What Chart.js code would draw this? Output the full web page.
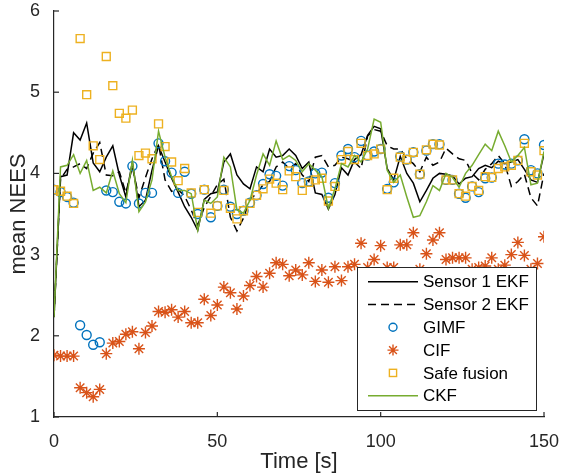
<!DOCTYPE html>
<html lang="en">
<head>
<meta charset="UTF-8" />
<title>mean NEES</title>
<style>
  * { margin: 0; padding: 0; box-sizing: border-box; }
  body { background: #fff; }
  #wrap { width: 561px; height: 475px; }
</style>
</head>
<body>
<div id="wrap"><canvas id="chart" width="561" height="475"></canvas></div>
<script src="https://cdn.jsdelivr.net/npm/chart.js"></script>
<script>
// time stamps, one sample every 2 s
const time = [0, 2, 4, 6, 8, 10, 12, 14, 16, 18, 20, 22, 24, 26, 28, 30, 32, 34, 36, 38,
  40, 42, 44, 46, 48, 50, 52, 54, 56, 58, 60, 62, 64, 66, 68, 70, 72, 74, 76, 78,
  80, 82, 84, 86, 88, 90, 92, 94, 96, 98, 100, 102, 104, 106, 108, 110, 112, 114, 116, 118,
  120, 122, 124, 126, 128, 130, 132, 134, 136, 138, 140, 142, 144, 146, 148, 150];

const sensor1Ekf = [2.23, 3.96, 3.98, 4.50, 4.41, 4.62, 4.13, 4.02, 4.20, 4.34,
  3.98, 3.71, 4.14, 3.59, 3.67, 4.04, 4.34, 4.14, 3.94, 3.77,
  3.59, 3.46, 3.30, 3.68, 3.75, 3.77, 4.14, 4.24, 3.98, 3.87,
  3.81, 4.08, 4.02, 4.30, 4.20, 4.22, 4.30, 4.22, 4.06, 4.14,
  3.76, 3.74, 3.56, 3.74, 4.07, 3.98, 4.17, 4.23, 4.47, 4.58,
  4.55, 4.06, 3.92, 4.21, 4.00, 3.88, 3.65, 3.79, 3.94, 4.00,
  3.99, 3.97, 3.87, 3.94, 3.96, 4.06, 4.10, 4.07, 4.15, 4.12,
  4.14, 4.17, 4.05, 3.92, 3.89, 4.24];

const sensor2Ekf = [2.23, 3.93, 4.05, 4.08, 4.12, 4.06, 4.25, 4.38, 3.98, 3.97,
  4.02, 3.76, 4.08, 3.70, 3.95, 4.18, 4.36, 3.92, 3.78, 3.80,
  3.72, 3.55, 3.36, 3.58, 3.72, 3.86, 3.93, 3.46, 3.29, 3.45,
  3.68, 3.75, 3.86, 3.90, 4.08, 4.14, 4.06, 4.12, 3.98, 3.90,
  4.20, 4.22, 4.08, 4.10, 4.20, 4.18, 4.14, 4.06, 4.46, 4.54,
  4.52, 4.34, 4.30, 4.30, 4.18, 4.12, 4.02, 4.20, 4.10, 4.14,
  4.31, 4.24, 4.18, 4.16, 4.00, 3.92, 4.05, 4.12, 4.22, 4.12,
  3.84, 3.90, 3.99, 3.70, 3.60, 4.00];

const gimf = [3.80, 3.77, 3.71, 3.64, 2.13, 2.01, 1.89, 1.92, 3.79, 3.77,
  3.65, 3.63, 4.09, 3.63, 3.76, 3.76, 4.37, 4.15, 4.01, 3.76,
  4.02, 3.75, 3.50, 3.80, 3.46, 3.60, 3.80, 3.59, 3.50, 3.54,
  3.64, 3.73, 3.87, 3.99, 3.97, 3.85, 4.09, 4.04, 3.88, 3.90,
  4.00, 4.01, 3.70, 3.88, 4.22, 4.30, 4.20, 4.40, 4.22, 4.27,
  4.30, 3.81, 3.89, 4.21, 4.17, 4.26, 3.99, 4.28, 4.36, 4.36,
  3.92, 3.92, 3.75, 3.70, 3.84, 3.77, 3.94, 3.95, 4.12, 4.11,
  4.12, 4.16, 4.42, 4.04, 4.00, 4.35];

const cif = [1.76, 1.75, 1.75, 1.75, 1.36, 1.30, 1.25, 1.34, 1.78, 1.91,
  1.93, 2.02, 2.05, 1.84, 2.04, 2.12, 2.30, 2.29, 2.32, 2.23,
  2.30, 2.16, 2.16, 2.45, 2.25, 2.38, 2.60, 2.53, 2.33, 2.49,
  2.62, 2.73, 2.60, 2.77, 2.90, 2.88, 2.74, 2.81, 2.75, 2.90,
  2.67, 2.81, 2.66, 2.85, 2.68, 2.85, 2.88, 3.14, 2.84, 2.94,
  3.11, 2.84, 2.84, 3.12, 3.12, 3.27, 2.82, 3.01, 3.18, 3.27,
  2.94, 2.96, 2.96, 2.96, 2.82, 2.84, 2.86, 2.96, 2.82, 2.87,
  3.00, 3.15, 2.99, 2.82, 2.89, 3.22];

const safeFusion = [3.80, 3.78, 3.72, 3.63, 5.66, 4.97, 4.34, 4.17, 5.44, 5.08,
  4.74, 4.68, 4.78, 4.22, 4.25, 4.18, 4.61, 4.33, 4.14, 3.91,
  4.06, 3.76, 3.52, 3.80, 3.51, 3.60, 3.79, 3.57, 3.44, 3.54,
  3.63, 3.73, 3.81, 3.93, 3.88, 3.80, 4.03, 3.96, 3.79, 3.89,
  3.92, 3.94, 3.66, 3.84, 4.17, 4.27, 4.17, 4.37, 4.22, 4.24,
  4.30, 3.80, 3.94, 4.20, 4.17, 4.26, 3.99, 4.29, 4.36, 4.35,
  3.92, 3.92, 3.75, 3.72, 3.84, 3.79, 3.96, 3.95, 4.06, 4.08,
  4.10, 4.16, 4.37, 4.02, 3.98, 4.28];

const ckf = [2.23, 4.08, 4.10, 4.23, 4.00, 4.16, 3.79, 3.83, 3.76, 4.03,
  3.75, 3.64, 4.16, 3.53, 3.65, 3.92, 4.52, 4.20, 3.96, 3.79,
  3.79, 3.75, 3.30, 3.67, 3.63, 3.71, 4.20, 4.08, 3.55, 3.51,
  3.67, 3.98, 4.24, 4.10, 4.40, 4.17, 4.22, 4.16, 4.02, 4.12,
  4.04, 3.96, 3.57, 3.81, 4.12, 4.08, 4.22, 4.14, 4.30, 4.67,
  4.63, 4.04, 3.89, 3.98, 3.71, 3.46, 3.48, 3.65, 3.85, 3.79,
  4.00, 3.95, 3.83, 4.00, 4.10, 4.23, 4.36, 4.28, 4.52, 4.34,
  4.14, 4.22, 4.32, 3.86, 3.88, 4.27];

const xTickValues = [0, 50, 100, 150];
const yTickValues = [1, 2, 3, 4, 5, 6];
const legendLabels = ["Sensor 1 EKF", "Sensor 2 EKF", "GIMF", "CIF", "Safe fusion", "CKF"];

const axisColor = "#262626";
const fontFamily = "'Liberation Sans', Arial, Helvetica, sans-serif";

function toPoints(values) {
  return values.map((v, i) => ({ x: time[i], y: v }));
}

// inward tick marks
const innerTicks = {
  id: "innerTicks",
  beforeDatasetsDraw(chart) {
    const ctx = chart.ctx;
    const area = chart.chartArea;
    const xs = chart.scales.x;
    const ys = chart.scales.y;
    ctx.save();
    ctx.strokeStyle = axisColor;
    ctx.lineWidth = 1.2;
    xTickValues.forEach((v) => {
      const px = xs.getPixelForValue(v);
      ctx.beginPath();
      ctx.moveTo(px, area.bottom);
      ctx.lineTo(px, area.bottom - 5);
      ctx.stroke();
    });
    yTickValues.forEach((v) => {
      const py = ys.getPixelForValue(v);
      ctx.beginPath();
      ctx.moveTo(area.left, py);
      ctx.lineTo(area.left + 5, py);
      ctx.stroke();
    });
    ctx.restore();
  },
};

// boxed legend drawn over the lower right of the plot
const boxLegend = {
  id: "boxLegend",
  afterDatasetsDraw(chart) {
    const ctx = chart.ctx;
    const box = { x: 357, y: 267, w: 179, h: 143 };
    ctx.save();
    ctx.fillStyle = "#fff";
    ctx.fillRect(box.x, box.y, box.w, box.h);
    ctx.strokeStyle = axisColor;
    ctx.lineWidth = 1;
    ctx.strokeRect(box.x + 0.5, box.y + 0.5, box.w, box.h);

    ctx.font = "17px " + fontFamily;
    ctx.textBaseline = "middle";
    ctx.textAlign = "left";
    chart.data.datasets.forEach((ds, i) => {
      const cy = box.y + 14.7 + i * 22.8;
      const x0 = 368, x1 = 418, cx = 393;
      ctx.strokeStyle = ds.borderColor;
      ctx.lineWidth = ds.showLine === false ? 1.4 : ds.borderWidth;
      if (ds.showLine !== false) {
        ctx.setLineDash(ds.borderDash || []);
        ctx.beginPath();
        ctx.moveTo(x0, cy);
        ctx.lineTo(x1, cy);
        ctx.stroke();
        ctx.setLineDash([]);
      } else if (ds.pointStyle === "circle") {
        ctx.beginPath();
        ctx.arc(cx, cy, 4, 0, Math.PI * 2);
        ctx.stroke();
      } else if (ds.pointStyle === "rect") {
        ctx.strokeRect(cx - 3.6, cy - 3.6, 7.2, 7.2);
      } else if (ds.pointStyle === "star") {
        const r = 5.5;
        ctx.beginPath();
        for (let k = 0; k < 4; k++) {
          const a = (k * Math.PI) / 4;
          ctx.moveTo(cx - r * Math.cos(a), cy - r * Math.sin(a));
          ctx.lineTo(cx + r * Math.cos(a), cy + r * Math.sin(a));
        }
        ctx.stroke();
      }
      ctx.fillStyle = "#000";
      ctx.fillText(legendLabels[i], 423, cy + 1);
    });
    ctx.restore();
  },
};

const lineSet = (label, values, color, extra) =>
  Object.assign({
    label: label,
    data: toPoints(values),
    borderColor: color,
    backgroundColor: color,
    borderWidth: 1.5,
    pointRadius: 0,
    tension: 0,
  }, extra);

const markerSet = (label, values, color, style, radius, extra) =>
  Object.assign({
    label: label,
    data: toPoints(values),
    showLine: false,
    borderColor: color,
    backgroundColor: "transparent",
    pointStyle: style,
    pointRadius: radius,
    pointBorderWidth: 1.4,
    pointBorderColor: color,
    pointBackgroundColor: "transparent",
  }, extra);

// keep the edge labels from shrinking the plot area
const noEdgePadding = (s) => {
  s.paddingLeft = 0;
  s.paddingRight = 0;
  s.paddingTop = 0;
  s.paddingBottom = 0;
};

const ctx = document.getElementById("chart").getContext("2d");
new Chart(ctx, {
  type: "line",
  data: {
    datasets: [
      lineSet(legendLabels[0], sensor1Ekf, "#000000", { order: 6 }),
      lineSet(legendLabels[1], sensor2Ekf, "#000000", { order: 5, borderDash: [8, 5] }),
      markerSet(legendLabels[2], gimf, "#0072BD", "circle", 4.5, { order: 4 }),
      markerSet(legendLabels[3], cif, "#D95319", "star", 6, { order: 3 }),
      markerSet(legendLabels[4], safeFusion, "#EDB120", "rect", 5.6, { order: 2 }),
      lineSet(legendLabels[5], ckf, "#77AC30", { order: 1 }),
    ],
  },
  options: {
    responsive: false,
    animation: false,
    devicePixelRatio: 1,
    layout: { padding: { top: 11, right: 17, left: 0, bottom: 0 } },
    plugins: {
      legend: { display: false },
      tooltip: { enabled: false },
    },
    scales: {
      x: {
        type: "linear",
        min: 0,
        max: 150,
        afterBuildTicks: (s) => { s.ticks = xTickValues.map((v) => ({ value: v })); },
        afterFit: (s) => { s.height = 58; noEdgePadding(s); },
        grid: { display: false },
        border: { display: true, color: axisColor, width: 1.2 },
        ticks: { color: axisColor, padding: 6, maxRotation: 0, font: { family: fontFamily, size: 18 } },
        title: { display: true, text: "Time [s]", color: axisColor, padding: { top: 0, bottom: 0 }, font: { family: fontFamily, size: 22 } },
      },
      y: {
        type: "linear",
        min: 1,
        max: 6,
        afterBuildTicks: (s) => { s.ticks = yTickValues.map((v) => ({ value: v })); },
        afterFit: (s) => { s.width = 54; noEdgePadding(s); },
        grid: { display: false },
        border: { display: true, color: axisColor, width: 1.2 },
        ticks: { color: axisColor, padding: 6, font: { family: fontFamily, size: 18 } },
        title: { display: true, text: "mean NEES", color: axisColor, padding: { top: 6, bottom: 0 }, font: { family: fontFamily, size: 22 } },
      },
    },
  },
  plugins: [innerTicks, boxLegend],
});
</script>
</body>
</html>
